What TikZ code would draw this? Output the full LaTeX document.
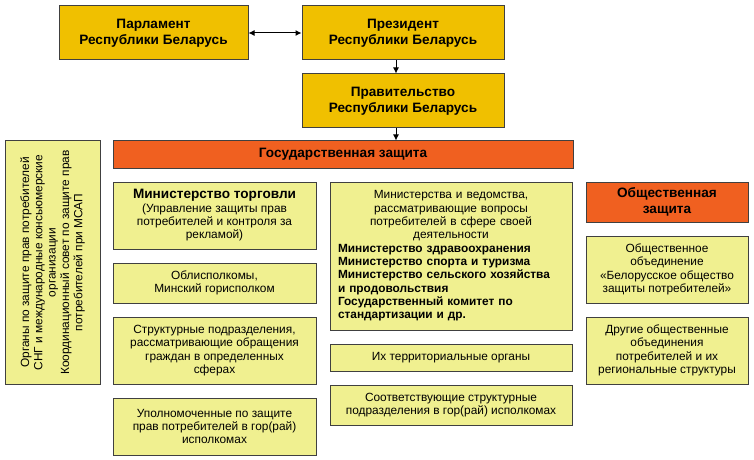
\documentclass[tikz,border=0pt]{standalone}
\usepackage{fontspec}
\setmainfont{Liberation Sans}
\usetikzlibrary{arrows.meta}
\newdimen\pxu
\pxu=0.75pt
\definecolor{gold}{HTML}{F0C000}
\definecolor{redorange}{HTML}{F06020}
\definecolor{paleyellow}{HTML}{F0F090}
\tikzset{
box/.style={
  draw=black!75,
  line width=0.75pt,
  fill=#1,
  inner sep=0pt,
  align=center,
  font=\fontsize{8.9}{10}\selectfont
  },
headbox/.style={
  box=#1,
  font=\fontsize{10.2}{11.6}\selectfont\bfseries
  },
link/.style={
  draw=black,
  line width=0.75pt,
  ->
  }
}
\begin{document}
\begin{tikzpicture}[x=0.75pt,y=-0.75pt,>={Latex[length=4.5pt,width=4.5pt]}]
            \useasboundingbox (0,0) rectangle (754,460);
            % top of the hierarchy
            \node[headbox=gold,minimum width=189\pxu,minimum height=54\pxu] (parl) at (153.5,33) {Парламент\\Республики Беларусь};
            \node[headbox=gold,minimum width=202\pxu,minimum height=54\pxu] (pres) at (403,33) {Президент\\Республики Беларусь};
            \node[headbox=gold,minimum width=202\pxu,minimum height=54\pxu] (prav) at (403,101) {Правительство\\Республики Беларусь};
            \node[headbox=redorange,minimum width=460\pxu,minimum height=27\pxu] (gos) at (343,154.5) {Государственная защита};
            % left column
            \node[box=paleyellow,rotate=90,minimum width=243\pxu,minimum height=95\pxu] (intl) at (52.5,262.5) {Органы по защите прав потребителей\\СНГ и международные консьюмерские\\организации\\Координационный совет по защите прав\\потребителей при МСАП};
            % ministry of trade column
            \node[box=paleyellow,minimum width=203\pxu,minimum height=67\pxu] (torg) at (214.5,215.5) {{\fontsize{10.2}{12}\selectfont\bfseries Министерство торговли}\\(Управление защиты прав\\потребителей и контроля за\\рекламой)};
            \node[box=paleyellow,minimum width=203\pxu,minimum height=40\pxu] (obl) at (214.5,283) {Облисполкомы,\\Минский горисполком};
            \node[box=paleyellow,minimum width=203\pxu,minimum height=67\pxu] (strukt) at (214.5,350.5) {Структурные подразделения,\\рассматривающие обращения\\граждан в определенных\\сферах};
            \node[box=paleyellow,minimum width=203\pxu,minimum height=57\pxu] (upoln) at (214.5,426.5) {Уполномоченные по защите\\прав потребителей в гор(рай)\\исполкомах};
            % ministries and agencies column
            \node[box=paleyellow,minimum width=242\pxu,minimum height=148\pxu,text width=226\pxu] (ved) at (451,256) {\centering Министерства и ведомства,\\рассматривающие вопросы\\потребителей в сфере своей\\деятельности\par
              \raggedright\bfseries Министерство здравоохранения\\Министерство спорта и туризма\\Министерство сельского хозяйства\\и продовольствия\\Государственный комитет по\\стандартизации и др.\par};
            \node[box=paleyellow,minimum width=242\pxu,minimum height=27\pxu] (terr) at (451,357.5) {Их территориальные органы};
            \node[box=paleyellow,minimum width=242\pxu,minimum height=40\pxu] (sootv) at (451,405) {Соответствующие структурные\\подразделения в гор(рай) исполкомах};
            % public protection column
            \node[headbox=redorange,minimum width=162\pxu,minimum height=40\pxu] (obsch) at (667,202) {Общественная\\защита};
            \node[box=paleyellow,minimum width=162\pxu,minimum height=67\pxu] (bop) at (667,269.5) {Общественное\\объединение\\«Белорусское общество\\защиты потребителей»};
            \node[box=paleyellow,minimum width=162\pxu,minimum height=67\pxu] (drug) at (667,350.5) {Другие общественные\\объединения\\потребителей и их\\региональные структуры};
            % connectors
            \draw[link,<->] (parl) -- (pres);
            \draw[link] ([xshift=-7\pxu]pres.south) -- ([xshift=-7\pxu]pres.south |- prav.north);
            \draw[link] ([xshift=-7\pxu]prav.south) -- ([xshift=-7\pxu]prav.south |- gos.north);
        \end{tikzpicture}
\end{document}
